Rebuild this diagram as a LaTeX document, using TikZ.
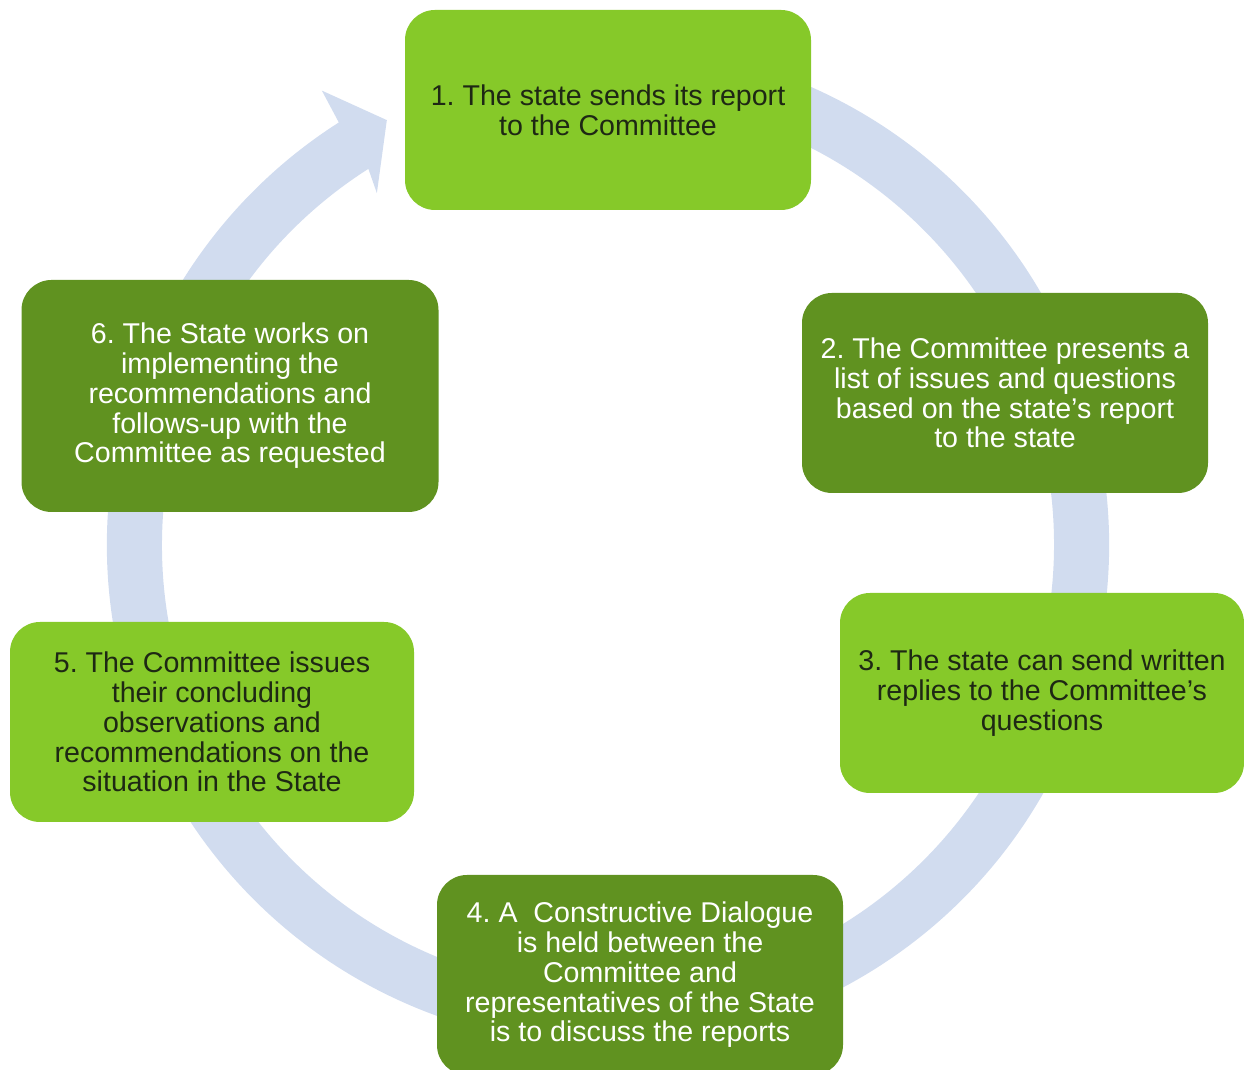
\documentclass[tikz,border=0pt]{standalone}
\usepackage{fontspec}
\setmainfont{Liberation Sans}
\usepackage{xcolor}
\usetikzlibrary{positioning}
\frenchspacing

\definecolor{ringblue}{RGB}{209,220,239}
\definecolor{lightgreen}{RGB}{134,201,41}
\definecolor{darkgreen}{RGB}{96,146,32}
\definecolor{darktext}{RGB}{30,40,20}

\begin{document}
\begin{tikzpicture}[
    x=0.5pt, y=0.5pt,
    block/.style={rectangle, rounded corners=15pt, align=center, minimum width=203pt, minimum height=100pt, inner sep=0pt, font=\fontsize{14.3}{14.9}\selectfont},
    lightblock/.style={block, fill=lightgreen, text=darktext},
    darkblock/.style={block, fill=darkgreen, text=white},
    ring/.style={fill=ringblue, draw=none}
]
    \useasboundingbox (0,0) rectangle (1244,1070);
    \clip (0,0) rectangle (1244,1070);

    \coordinate (ctr) at (608,525);
    \fill[ring, shift={(ctr)}] (70:501) arc[start angle=70, end angle=-237.5, radius=501]
        -- (-237.8:537) -- (-242.5:479) -- (-236.7:421)
        -- (-237.5:446) arc[start angle=-237.5, end angle=70, radius=446] -- cycle;

    \node[lightblock] (report) at (608,960) {1. The state sends its report\\to the Committee};
    \node[darkblock] (issues) at (1005,677) {2. The Committee presents a\\list of issues and questions\\based on the state’s report\\to the state};
    \node[lightblock, minimum width=202pt] (replies) at (1042,377) {3. The state can send written\\replies to the Committee’s\\questions};
    \node[darkblock] (dialogue) at (640,95) {4. A~ Constructive Dialogue\\is held between the\\Committee and\\representatives of the State\\is to discuss the reports};
    \node[lightblock, minimum width=202pt] (observations) at (212,348) {5. The Committee issues\\their concluding\\observations and\\recommendations on the\\situation in the State};
    \node[darkblock, minimum width=208.5pt, minimum height=116pt] (followup) at (230,674) {6. The State works on\\implementing the\\recommendations and\\follows-up with the\\Committee as requested};

\end{tikzpicture}
\end{document}
